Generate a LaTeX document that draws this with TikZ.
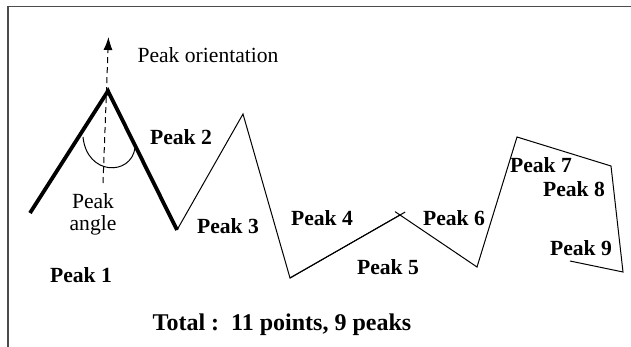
\documentclass[tikz,border=0pt]{standalone}
\usepackage{fontspec}
\setmainfont{Liberation Serif}
\usetikzlibrary{arrows.meta}

\begin{document}
\begin{tikzpicture}[
    x=0.5pt, y=-0.5pt, % one unit = one pixel of the sketch
    >={Latex[length=6.5pt,width=4.5pt]}, % Set default arrow tip style
    frame/.style={black!70, line width=0.8pt}, % Style for the border
    mainpeak/.style={line width=1.9pt}, % Style for the highlighted peak
    contour/.style={line width=0.5pt}, % Style for the rest of the curve
    peaklabel/.style={font=\fontsize{10.8}{12}\selectfont\bfseries, inner sep=0pt}, % Style for peak names
    note/.style={font=\fontsize{10.8}{12}\selectfont, inner sep=0pt, align=center} % Style for plain notes
]

\useasboundingbox (0,0) rectangle (631,347);

% Border (top and left only)
\draw[frame] (631,6.5) -- (8,6.5) -- (8,347);

% Contour points
\coordinate (p1) at (30,213);
\coordinate (p2) at (108,91);
\coordinate (p3) at (177,230);
\coordinate (p4) at (243,114);
\coordinate (p5) at (290,278);
\coordinate (p6) at (400,215);
\coordinate (p7) at (477,267);
\coordinate (p8) at (517,137);
\coordinate (p9) at (611,166);
\coordinate (p10) at (623,272);
\coordinate (p11) at (570,261);

% Highlighted peak
\draw[mainpeak, line join=miter] (p1) -- (p2) -- (p3);

% Rest of the contour (small cross at p6)
\draw[contour] (p3) -- (p4) -- (p5) -- (p6);
\draw[contour, shorten >=-3pt] (p5) -- (p6);
\draw[contour, shorten <=-3pt] (p6) -- (p7) -- (p8) -- (p9) -- (p10) -- (p11);

% Orientation arrow
\coordinate (dirfoot) at (103,183);
\coordinate (dirtip) at (108.5,37);
\draw[->, dashed, dash pattern=on 3pt off 2pt, line width=0.5pt] (dirfoot) -- (dirtip);
\node[note] (orient) at (208,55) {Peak orientation};

% Angle arc between the two sides
\coordinate (arcstart) at (83,137);
\coordinate (arcend) at (135,148);
\draw[contour] (arcstart) .. controls (87,176) and (131,176) .. (arcend);
\node[note] (angle) at (93,214) {Peak\\[-1pt]angle};

% Peak names
\node[peaklabel] (lab1) at (81,275) {Peak 1};
\node[peaklabel] (lab2) at (181,137) {Peak 2};
\node[peaklabel] (lab3) at (228,226) {Peak 3};
\node[peaklabel] (lab4) at (322,218) {Peak 4};
\node[peaklabel] (lab5) at (388,267) {Peak 5};
\node[peaklabel] (lab6) at (454,218) {Peak 6};
\node[peaklabel] (lab7) at (541,165) {Peak 7};
\node[peaklabel] (lab8) at (574,189) {Peak 8};
\node[peaklabel] (lab9) at (581,248) {Peak 9};

% Summary
\node[peaklabel, font=\fontsize{12}{14}\selectfont\bfseries] (total) at (282,325) {Total :\ \ 11 points, 9 peaks};

\end{tikzpicture}
\end{document}
